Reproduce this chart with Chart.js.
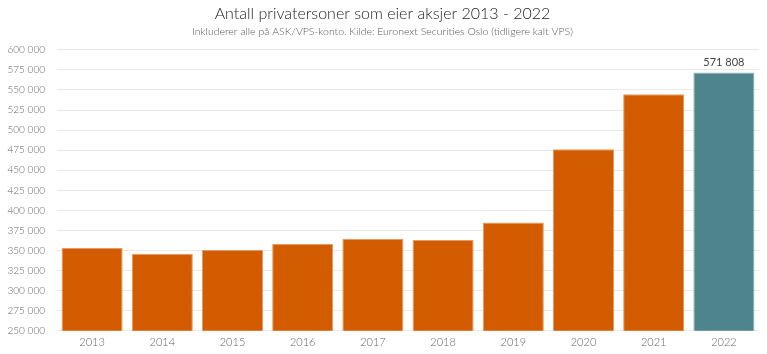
<!DOCTYPE html>
<html>
<head>
<meta charset="utf-8">
<script src="https://cdn.jsdelivr.net/npm/chart.js@4.4.0/dist/chart.umd.min.js"></script>
<style>
  html, body { margin: 0; padding: 0; background: #fff; }
  #wrap { width: 767px; height: 354px; }
</style>
</head>
<body>
<div id="wrap"><canvas id="chart" width="767" height="354"></canvas></div>
<script>
// data
const years = ['2013', '2014', '2015', '2016', '2017', '2018', '2019', '2020', '2021', '2022']
const owners = [353000, 346000, 350500, 358000, 364800, 363000, 384800, 476000, 544600, 571808]
const barColors = ['#d35c00', '#d35c00', '#d35c00', '#d35c00', '#d35c00',
                   '#d35c00', '#d35c00', '#d35c00', '#d35c00', '#4e848c']
const borderColors = ['#e49a66', '#e49a66', '#e49a66', '#e49a66', '#e49a66',
                      '#e49a66', '#e49a66', '#e49a66', '#e49a66', '#8fb3b8']
const labelledIndex = 9

const fontFamily = 'Lato, "Open Sans", sans-serif'

function fmt(v) {
  return String(Math.round(v)).replace(/\B(?=(\d{3})+(?!\d))/g, ' ')
}

// writes the value above the highlighted bar
const valueLabel = {
  id: 'valueLabel',
  afterDatasetsDraw(chart) {
    const bar = chart.getDatasetMeta(0).data[labelledIndex]
    const ctx = chart.ctx
    ctx.save()
    ctx.font = '11px ' + fontFamily
    ctx.fillStyle = '#444'
    ctx.textAlign = 'center'
    ctx.textBaseline = 'bottom'
    ctx.fillText(fmt(owners[labelledIndex]), bar.x, bar.y - 4)
    ctx.restore()
  }
}

new Chart(document.getElementById('chart'), {
  type: 'bar',
  data: {
    labels: years,
    datasets: [{
      data: owners,
      backgroundColor: barColors,
      borderColor: borderColors,
      borderWidth: 1,
      categoryPercentage: 1,
      barPercentage: 0.87
    }]
  },
  options: {
    responsive: false,
    animation: false,
    layout: { padding: { left: 6, right: 8, top: 0, bottom: 0 } },
    plugins: {
      legend: { display: false },
      tooltip: { enabled: false },
      title: {
        display: true,
        text: 'Antall privatersoner som eier aksjer 2013 - 2022',
        color: '#222',
        font: { family: fontFamily, size: 16, weight: 300 },
        padding: { top: 4, bottom: 2 }
      },
      subtitle: {
        display: true,
        text: 'Inkluderer alle på ASK/VPS-konto. Kilde: Euronext Securities Oslo (tidligere kalt VPS)',
        color: '#555',
        font: { family: fontFamily, size: 10.5, weight: 300 },
        padding: { top: 0, bottom: 12 }
      }
    },
    scales: {
      x: {
        grid: { display: false, drawTicks: false },
        border: { display: false },
        ticks: { color: '#666', font: { family: fontFamily, size: 11, weight: 300 }, padding: 5 }
      },
      y: {
        min: 250000,
        max: 600000,
        afterFit: (scale) => { scale.width = 51 },
        grid: { color: '#e9e9e9', drawTicks: false },
        border: { display: false },
        ticks: {
          stepSize: 25000,
          color: '#666',
          padding: 12,
          font: { family: fontFamily, size: 10, weight: 300 },
          callback: (v) => fmt(v)
        }
      }
    }
  },
  plugins: [valueLabel]
})
</script>
</body>
</html>
